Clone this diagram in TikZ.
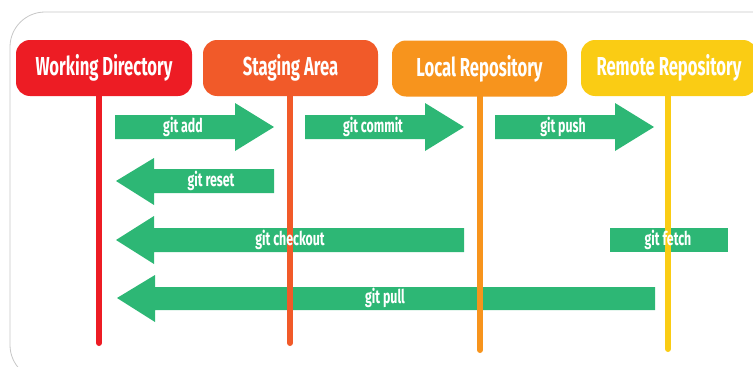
\documentclass[tikz,border=0pt]{standalone}
\usepackage{fontspec}
\newfontfamily\gitfont[FakeStretch=0.64]{Fira Sans}
\newfontfamily\cmdfont[FakeStretch=0.65]{Fira Sans}
\usetikzlibrary{positioning}

\definecolor{wdred}{HTML}{ED1C24}
\definecolor{sgorange}{HTML}{F15A29}
\definecolor{lcorange}{HTML}{F7941D}
\definecolor{rmyellow}{HTML}{FACC14}
\definecolor{cmdgreen}{HTML}{2DB775}

\begin{document}
\begin{tikzpicture}[x=1pt,y=-1pt,
  area/.style={rounded corners=14pt,minimum height=56pt,text=white,
    font=\gitfont\bfseries\fontsize{26}{28}\selectfont},
  lane/.style={line width=6pt,line cap=round},
  cmd/.style={fill=cmdgreen},
  cmdtext/.style={text=white,font=\cmdfont\bfseries\fontsize{19}{21}\selectfont}]
\useasboundingbox (0,0) rectangle (753,367);
\begin{scope}
\clip (0,0) rectangle (753,367);
\draw[gray!45,line width=0.8pt,rounded corners=35pt] (10,12) rectangle (800,380);
\end{scope}

% the four areas
\node[area,fill=wdred,minimum width=176pt] (wd) at (104,68) {Working Directory};
\node[area,fill=sgorange,minimum width=175pt] (sg) at (290.5,68) {Staging Area};
\node[area,fill=lcorange,minimum width=175pt] (lc) at (479.5,68.5) {Local Repository};
\node[area,fill=rmyellow,minimum width=176pt] (rm) at (669,68) {Remote Repository};

\coordinate (wdbot) at (99,343);
\coordinate (sgbot) at (290,343);
\coordinate (lcbot) at (480,350);
\coordinate (rmbot) at (668,349);

% commands
\fill[cmd] (115,115) -- (235,115) -- (235,103) -- (274,127) -- (235,151) -- (235,139) -- (115,139) -- cycle;
\fill[cmd] (305,115) -- (425,115) -- (425,103) -- (464,127) -- (425,151) -- (425,139) -- (305,139) -- cycle;
\fill[cmd] (495,115) -- (615,115) -- (615,103) -- (654,127) -- (615,151) -- (615,139) -- (495,139) -- cycle;
\fill[cmd] (274,169) -- (154,169) -- (154,158) -- (116,181) -- (154,205) -- (154,193) -- (274,193) -- cycle;
\fill[cmd] (464,228) -- (154,228) -- (154,216) -- (116,240) -- (154,264) -- (154,252) -- (464,252) -- cycle;
\fill[cmd] (610,228) rectangle (728,252);
\fill[cmd] (655,287) -- (155,287) -- (155,275) -- (117,298) -- (155,322) -- (155,310) -- (655,310) -- cycle;

% lanes
\draw[lane,wdred] (wd.south -| wdbot) -- (wdbot);
\draw[lane,sgorange] (sg.south -| sgbot) -- (sgbot);
\draw[lane,lcorange] (lc.south -| lcbot) -- (lcbot);
\draw[lane,rmyellow] (rm.south -| rmbot) -- (rmbot);

\node[cmdtext] (add) at (183,127) {git add};
\node[cmdtext] (commit) at (373,127) {git commit};
\node[cmdtext] (push) at (563,127) {git push};
\node[cmdtext] (reset) at (211,181) {git reset};
\node[cmdtext] (checkout) at (290,240) {git checkout};
\node[cmdtext] (fetch) at (668,240) {git fetch};
\node[cmdtext] (pull) at (385,298) {git pull};
\end{tikzpicture}
\end{document}
